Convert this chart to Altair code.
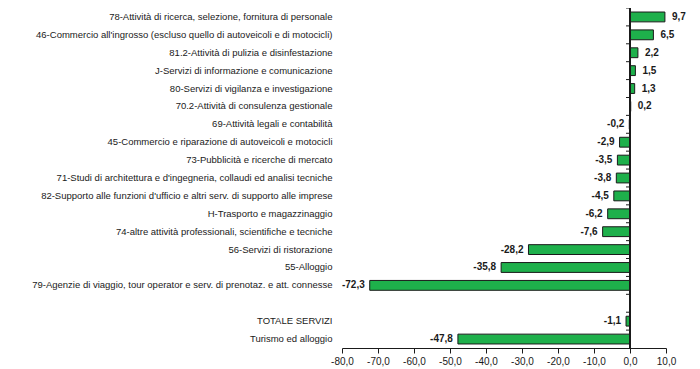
import altair as alt
import pandas as pd

categories = [
    "78-Attività di ricerca, selezione, fornitura di personale",
    "46-Commercio all'ingrosso (escluso quello di autoveicoli e di motocicli)",
    "81.2-Attività di pulizia e disinfestazione",
    "J-Servizi di informazione e comunicazione",
    "80-Servizi di vigilanza e investigazione",
    "70.2-Attività di consulenza gestionale",
    "69-Attività legali e contabilità",
    "45-Commercio e riparazione di autoveicoli e motocicli",
    "73-Pubblicità e ricerche di mercato",
    "71-Studi di architettura e d'ingegneria, collaudi ed analisi tecniche",
    "82-Supporto alle funzioni d'ufficio e altri serv. di supporto alle imprese",
    "H-Trasporto e magazzinaggio",
    "74-altre attività professionali, scientifiche e tecniche",
    "56-Servizi di ristorazione",
    "55-Alloggio",
    "79-Agenzie di viaggio, tour operator e serv. di prenotaz. e att. connesse",
    " ",
    "TOTALE SERVIZI",
    "Turismo ed alloggio",
]
values = [9.7, 6.5, 2.2, 1.5, 1.3, 0.2, -0.2, -2.9, -3.5, -3.8, -4.5, -6.2, -7.6,
          -28.2, -35.8, -72.3, None, -1.1, -47.8]
x_ticks = [-80, -70, -60, -50, -40, -30, -20, -10, 0, 10]

df_all = pd.DataFrame({"cat": categories, "val": values})
df = df_all[df_all["val"].notna()]
df_ticks = pd.DataFrame({"cat": categories})

FONT = "Liberation Sans"
GREEN = "#1eb04b"
DARK = "#1a1a1a"

H = 340
N = len(categories)
PAD_IN = 0.45
STEP = H / N

yscale = alt.Scale(domain=categories, paddingInner=PAD_IN, paddingOuter=PAD_IN / 2)
xscale = alt.Scale(domain=[-80, 10], nice=False, zero=False)
xaxis = alt.Axis(values=x_ticks, format=".1f", title=None, grid=False,
                 domainColor=DARK, tickColor=DARK, tickSize=5,
                 labelFont=FONT, labelFontSize=10, labelColor=DARK,
                 labelPadding=3, labelOverlap=False, labelFlush=False)
yaxis = alt.Axis(title=None, domain=False, ticks=False, labelFont=FONT,
                 labelFontSize=9.5, labelColor=DARK, labelPadding=10,
                 labelLimit=400)

base = alt.Chart(df)

bars = base.mark_bar(fill=GREEN, stroke=DARK, strokeWidth=1).encode(
    x=alt.X("val:Q", scale=xscale, axis=xaxis),
    y=alt.Y("cat:N", scale=yscale, sort=None, axis=yaxis),
)

zero_line = alt.Chart(df).mark_rule(color=DARK, strokeWidth=1).encode(
    x=alt.datum(0, scale=xscale, axis=xaxis)
)

tick_marks = alt.Chart(df_ticks).mark_tick(
    color=DARK, thickness=1, size=4, orient="horizontal", opacity=1,
    xOffset=-2, yOffset=-PAD_IN * STEP / 2
).encode(
    x=alt.datum(0, scale=xscale, axis=xaxis),
    y=alt.Y("cat:N", scale=yscale, sort=None, bandPosition=0, axis=yaxis),
)

pos_text = base.transform_filter("datum.val >= 0").mark_text(
    align="left", dx=7, font=FONT, fontSize=10, fontWeight="bold", color=DARK
).encode(
    x=alt.X("val:Q", scale=xscale, axis=xaxis),
    y=alt.Y("cat:N", scale=yscale, sort=None, axis=yaxis),
    text=alt.Text("val:Q", format=".1f"),
)

neg_text = base.transform_filter("datum.val < 0").mark_text(
    align="right", dx=-5, font=FONT, fontSize=10, fontWeight="bold", color=DARK
).encode(
    x=alt.X("val:Q", scale=xscale, axis=xaxis),
    y=alt.Y("cat:N", scale=yscale, sort=None, axis=yaxis),
    text=alt.Text("val:Q", format=".1f"),
)

chart = alt.layer(bars, zero_line, tick_marks, pos_text, neg_text).properties(
    width=324, height=H,
    autosize=alt.AutoSizeParams(type="none"),
    padding={"left": 334, "top": 0, "right": 26, "bottom": 21},
).configure(
    locale={"number": {"decimal": ",", "thousands": ".", "grouping": [3],
                       "currency": ["", "€"], "minus": "-"}}
).configure_view(stroke=None)

chart.save("out.html", embed_options={"renderer": "svg", "actions": False})
